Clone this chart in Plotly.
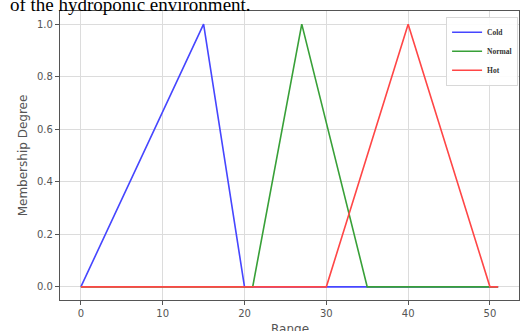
import plotly.graph_objects as go

# Data (membership functions breakpoints)
cold_x = [0, 15, 20, 51]
cold_y = [0, 1, 0, 0]
normal_x = [0, 21, 27, 35, 51]
normal_y = [0, 0, 1, 0, 0]
hot_x = [0, 30, 40, 50, 51]
hot_y = [0, 0, 1, 0, 0]
series_names = ["Cold", "Normal", "Hot"]
x_ticks = [0, 10, 20, 30, 40, 50]
y_ticks = [0.0, 0.2, 0.4, 0.6, 0.8, 1.0]

colors = ["#4646ff", "#38a038", "#ff4646"]

fig = go.Figure()
for name, xs, ys, c in zip(series_names, [cold_x, normal_x, hot_x], [cold_y, normal_y, hot_y], colors):
    fig.add_trace(go.Scatter(x=xs, y=ys, mode="lines", name="<b>" + name + "</b>",
                             line=dict(color=c, width=1.6)))

W, H = 528, 331
ml, mr, mt, mb = 60, 9, 11, 31
PH = H - mt - mb
fig.update_layout(
    width=W, height=H,
    margin=dict(l=ml, r=mr, t=mt, b=mb),
    paper_bgcolor="white", plot_bgcolor="white",
    font=dict(family="DejaVu Sans", color="#444"),
    showlegend=True,
    legend=dict(x=0.998, y=0.98, xanchor="right", yanchor="top",
                bgcolor="rgba(255,255,255,0.9)", bordercolor="#d8d8d8", borderwidth=1,
                font=dict(family="Liberation Serif", size=7.5, color="#333"),
                itemwidth=30, tracegroupgap=0),
    xaxis=dict(range=[-2.55, 53.55], tickvals=x_ticks, ticks="outside", ticklen=4,
               tickcolor="#555", showgrid=True, gridcolor="#dcdcdc", gridwidth=1,
               zeroline=False, showline=True, linecolor="#555", linewidth=1.3, mirror=True,
               tickfont=dict(size=10, color="#555"), automargin=False),
    yaxis=dict(range=[-0.05, 1.05], tickvals=y_ticks, tickformat=".1f", ticks="outside", ticklen=4,
               tickcolor="#555", showgrid=True, gridcolor="#dcdcdc", gridwidth=1,
               zeroline=False, showline=True, linecolor="#555", linewidth=1.3, mirror=True,
               tickfont=dict(size=10, color="#555"), automargin=False,
               title=dict(text="Membership Degree", font=dict(size=12, color="#555"), standoff=6)),
)

fig.add_annotation(text="Range", xref="paper", yref="paper",
                   x=0.5, y=-(320 - (H - mb)) / PH, xanchor="center", yanchor="top",
                   showarrow=False, font=dict(family="DejaVu Sans", size=12, color="#555"))

fig.add_annotation(text="of the hydroponic environment.", xref="paper", yref="paper",
                   x=(8 - ml) / (W - ml - mr), y=(H - mb - 17) / PH,
                   xanchor="left", yanchor="bottom", showarrow=False,
                   font=dict(family="Liberation Serif", size=19, color="black"))

fig.write_html("out.html", config={"displayModeBar": False},
               post_script="document.body.style.margin='0';")
